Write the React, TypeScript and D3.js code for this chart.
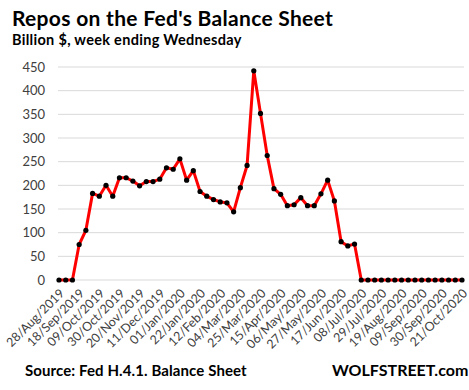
import React from "react";
import * as d3 from "d3";

const values: number[] = [
  0, 0, 0, 75, 105, 183, 177, 200, 177, 216, 216, 209, 199, 208, 208, 213, 237, 234, 256, 211,
  231, 187, 177, 170, 165, 163, 144, 195, 242, 442, 352, 263, 193, 181, 157, 159, 174, 157, 157, 182,
  211, 167, 81, 72, 76, 0, 0, 0, 0, 0, 0, 0, 0, 0, 0, 0, 0, 0, 0, 0, 0,
];

const tickLabels: string[] = [
  "28/Aug/2019", "18/Sep/2019", "09/Oct/2019", "30/Oct/2019", "20/Nov/2019", "11/Dec/2019",
  "01/Jan/2020", "22/Jan/2020", "12/Feb/2020", "04/Mar/2020", "25/Mar/2020", "15/Apr/2020",
  "06/May/2020", "27/May/2020", "17/Jun/2020", "08/Jul/2020", "29/Jul/2020", "19/Aug/2020",
  "09/Sep/2020", "30/Sep/2020", "21/Oct/2020",
];

const yTicks: number[] = [0, 50, 100, 150, 200, 250, 300, 350, 400, 450];

const W = 469;
const H = 390;
const FONT = "Lato, 'Open Sans', sans-serif";

export default function App() {
  const x = d3.scaleLinear().domain([0, values.length - 1]).range([59, 462]);
  const y = d3.scaleLinear().domain([0, 450]).range([280, 67]);
  const line = d3
    .line<number>()
    .x((_, i) => x(i))
    .y((d) => y(d));

  return (
    <svg
      width={W}
      height={H}
      style={{ position: "absolute", left: 0, top: 0, background: "#fff" }}
      fontFamily={FONT}
    >
      <text x={12} y={26} fontSize={21} fontWeight={700} letterSpacing={0.3} fill="#000">
        Repos on the Fed's Balance Sheet
      </text>
      <text x={12} y={45} fontSize={14.5} fontWeight={700} letterSpacing={0.3} fill="#000">
        Billion $, week ending Wednesday
      </text>

      {yTicks.map((t) => (
        <g key={t}>
          <line x1={58} x2={464} y1={y(t)} y2={y(t)} stroke="#d9d9d9" strokeWidth={1} />
          <text x={45} y={y(t)} dy="0.35em" textAnchor="end" fontSize={13} fill="#404040">
            {t}
          </text>
        </g>
      ))}

      {tickLabels.map((lab, k) => {
        const px = x(k * 3) + 3;
        const py = 291;
        return (
          <text
            key={lab}
            transform={`translate(${px},${py}) rotate(-45)`}
            textAnchor="end"
            dy="0.35em"
            fontSize={12.5}
            fill="#404040"
          >
            {lab}
          </text>
        );
      })}

      <path d={line(values) || ""} fill="none" stroke="#ff0000" strokeWidth={3} strokeLinejoin="round" />
      {values.map((v, i) => (
        <circle key={i} cx={x(i)} cy={y(v)} r={2.6} fill="#000" />
      ))}

      <text x={25} y={376} fontSize={15} fontWeight={700} letterSpacing={0.1} fill="#000">
        Source: Fed H.4.1. Balance Sheet
      </text>
      <text x={332} y={376} fontSize={16} fontWeight={700} fill="#000">
        WOLFSTREET.com
      </text>
    </svg>
  );
}
